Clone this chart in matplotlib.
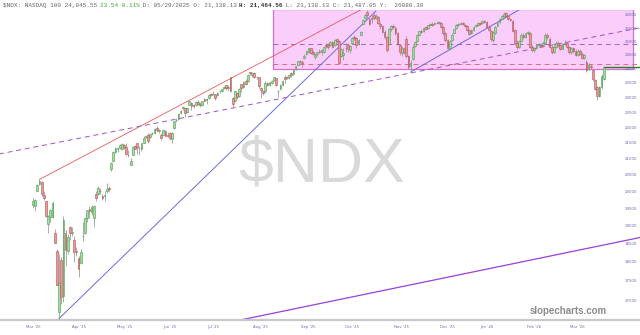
import numpy as np
import pandas as pd
import matplotlib
matplotlib.use("Agg")
import matplotlib.pyplot as plt
from matplotlib.ticker import FixedLocator, NullLocator, FixedFormatter

# trading calendar (US market holidays inside the window)
holidays = ["2025-04-18", "2025-05-26", "2025-06-19", "2025-07-04", "2025-09-01",
            "2025-11-27", "2025-12-25", "2026-01-01", "2026-01-19", "2026-02-16"]
start_date = "2025-03-20"

# daily OHLC (rows of 10 days)
opens = [
    19600, 19550, 20000, 20200, 20270, 19870, 19700, 19050, 19240, 19250,
    18800, 18300, 16700, 18040, 17100, 18800, 18300, 18950, 18790, 18600,
    18300, 18100, 17970, 18700, 18800, 19200, 19480, 19400, 19200, 19900,
    19900, 20000, 19850, 19850, 20000, 20090, 20660, 20920, 21200, 21280,
    21340, 21300, 21410, 21350, 21120, 20800, 21100, 21380, 21490, 21330,
    21300, 21500, 21680, 21730, 21680, 21800, 21810, 21970, 21860, 21750,
    21750, 21860, 21730, 21800, 21600, 21960, 22240, 22280, 22480, 22620,
    22620, 22500, 22730, 22800, 22720, 22750, 22850, 22730, 22750, 22950,
    22900, 22960, 23120, 23100, 23110, 23080, 23210, 23230, 23310, 23430,
    23330, 23700, 22980, 22880, 23150, 23050, 23450, 23350, 23550, 23550,
    23870, 23760, 23860, 23690, 23700, 23330, 23200, 23200, 23490, 23420,
    23500, 23600, 23660, 23200, 23300, 23440, 23700, 23660, 23700, 23830,
    23800, 23990, 24130, 24290, 24250, 24400, 24520, 24600, 24740, 24620,
    24420, 24520, 24660, 24600, 24620, 24870, 24860, 24860, 24990, 24850,
    25070, 25020, 24450, 24500, 24770, 24870, 24670, 24940, 25160, 25120,
    24900, 25250, 25650, 25900, 26100, 25830, 25900, 25990, 25880, 25940,
    25650, 25560, 25350, 25150, 24900, 25450, 25560, 25500, 25300, 24850,
    24580, 24700, 25100, 24450, 24080, 24350, 24820, 25000, 25250, 25400,
    25380, 25520, 25500, 25600, 25660, 25640, 25700, 25690, 25700, 25540,
    25300, 25060, 24750, 25050, 25300, 25500, 25620, 25640, 25690, 25620,
    25560, 25420, 25300, 25430, 25560, 25600, 25690, 25680, 25770, 25730,
    25550, 25400, 25050, 25300, 25580, 25720, 25850, 25960, 26060, 25970,
    25850, 25780, 25420, 24950, 24800, 25000, 25250, 25160, 25300, 25330,
    24800, 24680, 24760, 24850, 24880, 24850, 24950, 25250, 25100, 24800,
    24600, 24800, 24950, 24850, 24720, 24900, 24950, 24800, 24600, 24750,
    24650, 24500, 24650, 24550, 24400, 24250, 24000, 24100, 23950, 23600,
    23350, 23050, 23350, 23650,
]
highs = [
    19800, 19780, 20220, 20350, 20290, 19990, 19720, 19300, 19480, 19720,
    18900, 18350, 18200, 18130, 19280, 18860, 18750, 19000, 18950, 18700,
    18400, 18150, 18350, 19100, 19250, 19450, 19550, 19600, 19600, 19990,
    20150, 20080, 19900, 20000, 20250, 20150, 20900, 21230, 21360, 21360,
    21450, 21470, 21450, 21480, 21250, 21000, 21400, 21420, 21500, 21380,
    21500, 21700, 21750, 21820, 21800, 21850, 21960, 22040, 21940, 21820,
    21950, 21900, 21850, 21840, 21840, 22200, 22290, 22460, 22570, 22700,
    22650, 22650, 22880, 22830, 22780, 22860, 22900, 22830, 22880, 22990,
    22970, 23100, 23140, 23220, 23120, 23170, 23260, 23300, 23390, 23440,
    23440, 23720, 23010, 23220, 23190, 23330, 23460, 23550, 23620, 23800,
    23900, 23870, 23880, 23750, 23710, 23350, 23250, 23580, 23530, 23540,
    23600, 23720, 23680, 23260, 23450, 23600, 23780, 23750, 23780, 23880,
    23990, 24110, 24290, 24330, 24300, 24520, 24650, 24770, 24760, 24680,
    24560, 24620, 24720, 24700, 24800, 24930, 24950, 25000, 25020, 25070,
    25100, 25050, 24760, 24750, 24920, 24950, 24880, 25170, 25220, 25150,
    25090, 25400, 25840, 26040, 26180, 25880, 26000, 26060, 26020, 25980,
    25720, 25620, 25420, 25200, 25500, 25620, 25650, 25560, 25340, 24900,
    24820, 24800, 25200, 24500, 24320, 24850, 25000, 25260, 25400, 25450,
    25530, 25560, 25620, 25700, 25720, 25740, 25760, 25780, 25730, 25580,
    25350, 25100, 25050, 25300, 25480, 25640, 25700, 25720, 25730, 25660,
    25600, 25460, 25460, 25580, 25660, 25720, 25730, 25800, 25820, 25760,
    25600, 25430, 25400, 25580, 25740, 25880, 25990, 26100, 26120, 26010,
    25900, 25800, 25450, 25050, 25050, 25300, 25330, 25350, 25400, 25350,
    24850, 24800, 24900, 24950, 24930, 25000, 25300, 25320, 25150, 24850,
    24850, 25000, 25020, 24900, 24950, 25050, 24980, 24830, 24800, 24800,
    24700, 24700, 24720, 24600, 24550, 24300, 24200, 24180, 24000, 23650,
    23400, 23400, 23800, 24100,
]
lows = [
    19500, 19420, 19990, 20180, 19860, 19730, 19250, 18800, 19100, 19220,
    18500, 17380, 16540, 16900, 16950, 17900, 18200, 18600, 18700, 18000,
    18150, 17600, 17930, 18560, 18750, 19100, 19200, 19300, 18950, 19700,
    19880, 19900, 19750, 19700, 19950, 19980, 20600, 20900, 21180, 21200,
    21300, 21250, 21300, 21100, 21050, 20800, 21100, 21280, 21140, 21110,
    21220, 21480, 21650, 21480, 21640, 21730, 21780, 21850, 21810, 21580,
    21740, 21700, 21690, 21580, 21500, 21950, 22180, 22250, 22430, 22560,
    22340, 22460, 22720, 22570, 22640, 22700, 22720, 22680, 22700, 22860,
    22780, 22950, 23030, 23080, 22900, 23030, 23160, 23190, 23280, 23250,
    23230, 23180, 22680, 22870, 22950, 23010, 23190, 23330, 23440, 23520,
    23760, 23720, 23660, 23630, 23330, 22980, 23080, 23150, 23400, 23400,
    23470, 23550, 23380, 23000, 23280, 23400, 23500, 23620, 23640, 23700,
    23780, 23970, 24120, 24220, 24050, 24360, 24500, 24580, 24530, 24480,
    24350, 24470, 24560, 24500, 24580, 24760, 24720, 24830, 24760, 24830,
    24930, 24190, 24420, 24300, 24600, 24610, 24560, 24930, 25060, 24750,
    24880, 25230, 25640, 25850, 25900, 25600, 25700, 25820, 25850, 25650,
    25480, 25300, 25100, 24620, 24880, 25400, 25450, 25250, 24850, 24500,
    24450, 24520, 24400, 23980, 23880, 24300, 24780, 24980, 25220, 25300,
    25350, 25420, 25450, 25570, 25580, 25610, 25640, 25650, 25500, 25250,
    24980, 24700, 24680, 25020, 25280, 25480, 25580, 25600, 25600, 25540,
    25380, 25250, 25270, 25400, 25520, 25580, 25600, 25650, 25700, 25500,
    25380, 25000, 24980, 25280, 25560, 25700, 25830, 25930, 25940, 25800,
    25760, 25350, 24880, 24700, 24750, 24980, 25100, 25120, 25250, 24750,
    24600, 24620, 24720, 24800, 24780, 24820, 24930, 25100, 24750, 24550,
    24560, 24760, 24800, 24680, 24700, 24850, 24750, 24550, 24550, 24580,
    24450, 24450, 24480, 24350, 24350, 23900, 23950, 23980, 23580, 23250,
    22900, 23000, 23300, 23600,
]
closes = [
    19720, 19750, 20180, 20290, 19920, 19800, 19280, 19280, 19440, 19640,
    18520, 17400, 17430, 17090, 19145, 18330, 18690, 18790, 18820, 18260,
    18260, 17810, 18270, 18700, 19210, 19430, 19410, 19540, 19570, 19790,
    20100, 19990, 19790, 19870, 20060, 20060, 20870, 21200, 21320, 21340,
    21430, 21450, 21370, 21130, 21110, 20920, 21370, 21300, 21360, 21340,
    21490, 21650, 21710, 21550, 21760, 21800, 21940, 21910, 21910, 21630,
    21910, 21720, 21720, 21630, 21820, 22190, 22240, 22450, 22530, 22680,
    22480, 22640, 22870, 22690, 22700, 22830, 22780, 22780, 22860, 22880,
    22940, 23070, 23070, 23110, 22990, 23160, 23220, 23270, 23360, 23310,
    23360, 23220, 22760, 23200, 23000, 23300, 23330, 23540, 23470, 23790,
    23840, 23850, 23710, 23710, 23380, 23240, 23140, 23500, 23420, 23520,
    23570, 23700, 23420, 23230, 23410, 23580, 23650, 23700, 23760, 23780,
    23970, 24080, 24270, 24280, 24220, 24450, 24630, 24760, 24580, 24530,
    24500, 24590, 24610, 24680, 24790, 24840, 24780, 24980, 24800, 25050,
    25010, 24220, 24720, 24580, 24740, 24700, 24820, 25140, 25140, 24880,
    25060, 25360, 25820, 26010, 26010, 25660, 25860, 25900, 25950, 25700,
    25560, 25350, 25150, 24680, 25450, 25560, 25520, 25320, 24900, 24600,
    24750, 24600, 24450, 24060, 24200, 24800, 24980, 25230, 25380, 25350,
    25500, 25480, 25600, 25650, 25620, 25700, 25680, 25720, 25550, 25300,
    25050, 24750, 25000, 25250, 25450, 25600, 25650, 25680, 25640, 25580,
    25420, 25280, 25420, 25550, 25620, 25680, 25650, 25760, 25740, 25550,
    25420, 25100, 25350, 25550, 25700, 25850, 25950, 26050, 25980, 25850,
    25800, 25400, 24950, 24780, 25000, 25250, 25150, 25300, 25350, 24800,
    24680, 24750, 24850, 24900, 24820, 24950, 25250, 25150, 24800, 24600,
    24800, 24950, 24850, 24720, 24900, 24950, 24800, 24600, 24750, 24650,
    24500, 24650, 24550, 24400, 24500, 23950, 24150, 24050, 23620, 23300,
    23050, 23350, 23750, 24045,
]

# drawn trend lines: (day index pair, price pair)
red_trend = ([3, 151], [20350, 26200])
blue_trend = ([12, 158], [16540, 26150])
blue_trend2 = ([174, 224], [23880, 26200])
channel_dashed = ([-16, 281], [21130, 25530])
channel_lower = ([96, 281], [16510, 18680])
box_days = [110.5, 276.5]
box_prices = [23990, 26250]
level_purple = 24900
level_red = 24170
last_price = 24045

y_ticks = list(range(17000, 26001, 500))

header_parts = [
    ("$NDX: NASDAQ 100 24,045.55 ", "#666666", "normal"),
    ("23.54 0.11%", "#3aa83a", "normal"),
    (" D: 05/29/2025 O: 21,138.13 ", "#666666", "normal"),
    ("H: 21,464.56", "#333333", "bold"),
    (" L: 21,138.13 C: 21,487.05 Y:  26080.30", "#666666", "normal"),
]

# ---------------------------------------------------------------
dates = pd.bdate_range(start_date, periods=len(closes), freq="C", holidays=holidays)
o = np.array(opens, float)
h = np.array(highs, float)
l = np.array(lows, float)
c = np.array(closes, float)
x = np.arange(len(c))

W, H = 640, 335
fig = plt.figure(figsize=(6.4, 3.35), dpi=100)
ax = fig.add_axes([0, 1 - 320 / H, 1, 310 / H])
ax.set_yscale("log")
ax.set_xlim(-15.2, 279.7)
ax.set_ylim(16505, 26194)

# watermark
ax.text(0.503, 0.50, "$NDX", transform=ax.transAxes, ha="center", va="center",
        fontsize=45, color="#d9d9d9", family="Liberation Sans", zorder=0)

# consolidation box
ax.fill_between(box_days, box_prices[0], box_prices[1], facecolor="#fbcdfb",
                edgecolor="#d070d0", lw=0.9, zorder=1)

ax.hlines(level_purple, box_days[0], box_days[1] + 3, colors="#a060d0",
          linestyles=(0, (5, 4)), lw=0.7, zorder=2)
ax.hlines(level_red, box_days[0], 281, colors="#e06888",
          linestyles=(0, (5, 4)), lw=0.7, zorder=2)

ax.plot(*red_trend, color="#e85a5a", lw=0.6, zorder=2)
ax.plot(*blue_trend, color="#6a6ae0", lw=0.7, zorder=2)
ax.plot(*blue_trend2, color="#6a6ae0", lw=0.7, zorder=2)
ax.plot(*channel_dashed, color="#a050c8", lw=0.7, ls=(0, (5, 4)), zorder=2)
ax.plot(*channel_lower, color="#9a40d8", lw=0.9, zorder=2)

# candles
up = c >= o
body_lo = np.minimum(o, c)
body_h = np.maximum(np.abs(c - o), 8)
ax.vlines(x, l, h, color="#8a8a8a", lw=0.5, zorder=3)
ax.bar(x[up], body_h[up], bottom=body_lo[up], width=0.8, color="#9ee09e",
       edgecolor="#4e9a4e", lw=0.4, zorder=4)
ax.bar(x[~up], body_h[~up], bottom=body_lo[~up], width=0.8, color="#e89a9a",
       edgecolor="#b05050", lw=0.4, zorder=4)

ax.hlines(last_price, x[-1], 281, colors="#2e7d2e", lw=1.0, zorder=5)

# axes styling
for s in ["top", "left", "right"]:
    ax.spines[s].set_visible(False)
ax.spines["bottom"].set_color("#c8c8c8")
ax.spines["bottom"].set_linewidth(1.6)

ax.yaxis.tick_right()
ax.yaxis.set_major_locator(FixedLocator(y_ticks))
ax.yaxis.set_minor_locator(NullLocator())
ax.yaxis.set_major_formatter(FixedFormatter([str(v) for v in y_ticks]))
ax.tick_params(axis="y", length=0, pad=-11, labelsize=2.8, labelcolor="#6a6ab0")

tick_pos, tick_lab = [], []
for m in pd.period_range(dates[0], dates[-1], freq="M"):
    target = pd.Timestamp(m.year, m.month, 20)
    idx = np.searchsorted(dates, target)
    if idx < len(dates):
        tick_pos.append(idx)
        tick_lab.append(target.strftime("%b '%y"))
ax.set_xticks(tick_pos)
ax.set_xticklabels(tick_lab)
ax.tick_params(axis="x", length=0, pad=3.5, labelsize=2.8, labelcolor="#6a6ab0")

# header line
cw = 0.6 * 4.3 * 100 / 72
px = 3
for txt, col, wt in header_parts:
    fig.text(px / W, 1 - 5.5 / H, txt, ha="left", va="center", fontsize=4.3,
             family="Liberation Mono", color=col, fontweight=wt)
    px += len(txt) * cw

fig.text(607 / W, 1 - 311 / H, "slopecharts.com", ha="right", va="center",
         fontsize=7, color="#8c8c8c", family="Liberation Sans", fontweight="bold")

fig.savefig("out.png", dpi=100)
